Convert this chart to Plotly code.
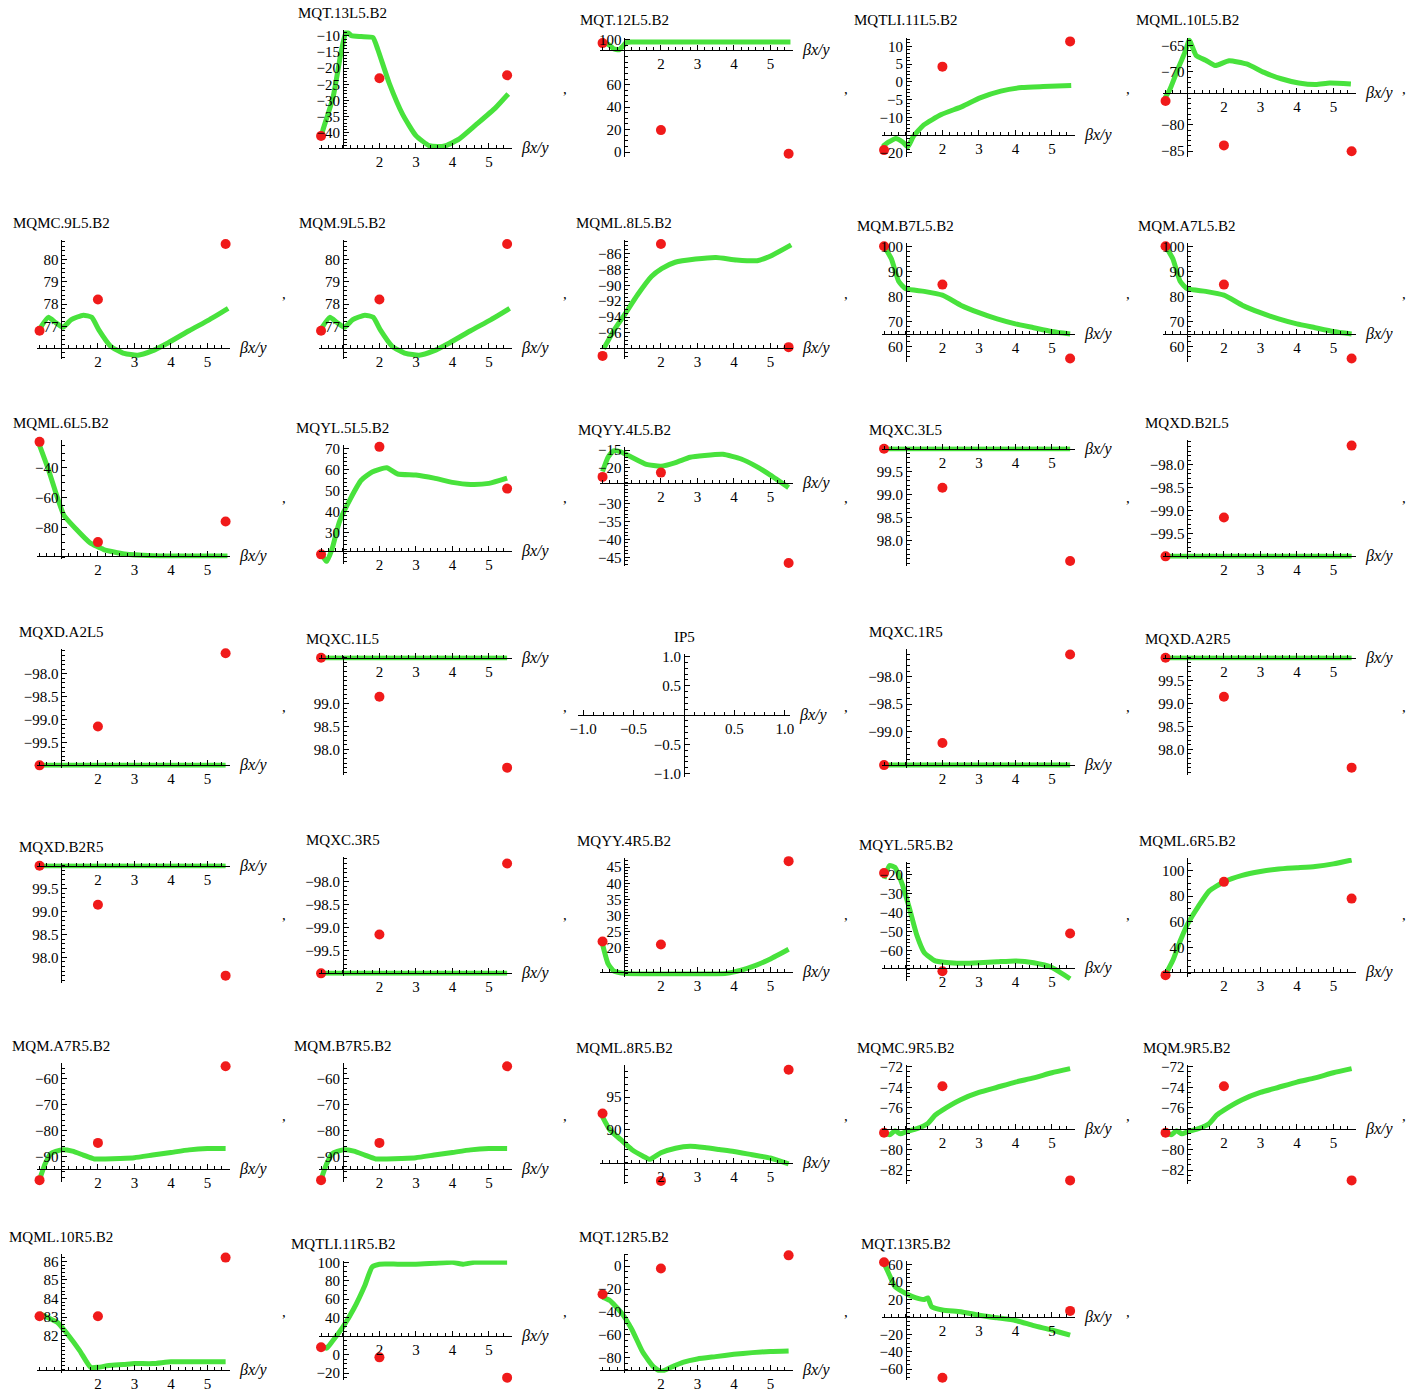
import plotly.graph_objects as go

# ---------------------------------------------------------------------------
# Data: one green response curve and three red reference points per element.
# Points are taken at beta = 0.4, 2.0 and 5.5.
# ---------------------------------------------------------------------------
point_beta = [0.4, 2.0, 5.5]

mqt13l5_x = [0.41, 0.45, 0.73, 0.95, 1.09, 1.23, 1.5, 1.82, 1.95, 2.27, 2.64, 3.0, 3.36, 3.6, 3.82, 4.18, 4.64, 5.18, 5.53]
mqt13l5_y = [-41, -39.2, -29, -15, -8.6, -9.9, -10.2, -10.5, -14, -24.7, -34.4, -40.9, -44, -44.3, -44, -42, -37.6, -32.3, -28]
mqt13l5_pts = [-41, -23.1, -22.2]

mqt12l5_x = [0.4, 0.55, 0.7, 0.85, 0.95, 1.05, 1.2, 2, 3, 4, 5, 5.55]
mqt12l5_y = [97, 96, 92, 91, 94, 97.5, 98, 98, 98, 98, 98, 98]
mqt12l5_pts = [97, 19.5, -1.5]

mqtli11l5_x = [0.34, 0.53, 0.72, 0.91, 1.05, 1.2, 1.49, 1.97, 2.55, 3.03, 3.6, 4.18, 4.76, 5.53]
mqtli11l5_y = [-18.3, -16.9, -15.9, -16.9, -18.3, -15.4, -12.1, -9.2, -6.9, -4.5, -2.6, -1.6, -1.3, -1.0]
mqtli11l5_pts = [-19.2, 4.3, 11.4]

mqml10l5_x = [0.38, 0.52, 0.76, 0.95, 1.05, 1.24, 1.5, 1.76, 2.14, 2.62, 3.1, 3.57, 4.05, 4.52, 4.9, 5.48]
mqml10l5_y = [-75, -73.3, -69.1, -66, -64.0, -66.9, -67.8, -68.8, -67.9, -68.5, -70.1, -71.3, -72.1, -72.4, -72.1, -72.3]
mqml10l5_pts = [-75.5, -83.9, -85]

mqmc9l5_x = [0.43, 0.64, 0.85, 1.04, 1.27, 1.6, 1.83, 2.02, 2.35, 2.72, 3.09, 3.47, 3.93, 4.5, 5.06, 5.57]
mqmc9l5_y = [76.95, 77.4, 77.15, 76.95, 77.3, 77.5, 77.4, 76.85, 76.1, 75.78, 75.7, 75.88, 76.26, 76.8, 77.3, 77.8]
mqmc9l5_pts = [76.8, 78.2, 80.7]

mqm9l5_x = [0.43, 0.64, 0.85, 1.04, 1.27, 1.6, 1.83, 2.02, 2.35, 2.72, 3.09, 3.47, 3.93, 4.5, 5.06, 5.57]
mqm9l5_y = [76.95, 77.4, 77.15, 76.95, 77.3, 77.5, 77.4, 76.85, 76.1, 75.78, 75.7, 75.88, 76.26, 76.8, 77.3, 77.8]
mqm9l5_pts = [76.8, 78.2, 80.7]

mqml8l5_x = [0.43, 0.71, 0.99, 1.36, 1.74, 2.02, 2.39, 2.95, 3.51, 4.07, 4.64, 5.01, 5.57]
mqml8l5_y = [-98, -95.7, -93.8, -91.2, -88.9, -87.9, -87.1, -86.7, -86.5, -86.8, -86.9, -86.3, -84.9]
mqml8l5_pts = [-98.9, -84.8, -97.8]

mqmb7l5_x = [0.4, 0.6, 0.8, 1.0, 1.5, 2.0, 2.5, 3.0, 3.5, 4.0, 4.5, 5.0, 5.5]
mqmb7l5_y = [100, 95, 86, 83, 82, 80.5, 76.5, 73.5, 71, 69, 67.5, 66, 65]
mqmb7l5_pts = [100, 84.7, 55.2]

mqma7l5_x = [0.4, 0.6, 0.8, 1.0, 1.5, 2.0, 2.5, 3.0, 3.5, 4.0, 4.5, 5.0, 5.5]
mqma7l5_y = [100, 95, 86, 83, 82, 80.5, 76.5, 73.5, 71, 69, 67.5, 66, 65]
mqma7l5_pts = [100, 84.7, 55.2]

mqml6l5_x = [0.4, 0.64, 0.88, 1.07, 1.4, 1.78, 2.16, 2.73, 3.5, 4.45, 5.0, 5.55]
mqml6l5_y = [-24.8, -40.9, -59.3, -72, -81.1, -90.3, -94.9, -97.9, -99, -99.2, -99.2, -99.2]
mqml6l5_pts = [-22.5, -89.9, -76]

mqyl5l5_x = [0.4, 0.55, 0.7, 0.9, 1.2, 1.5, 1.8, 2.2, 2.5, 3.0, 3.5, 4.0, 4.5, 5.0, 5.5]
mqyl5l5_y = [20, 16, 22, 35, 46, 55, 59, 61, 58, 57.5, 56, 54, 53, 53.5, 56]
mqyl5l5_pts = [19.5, 71, 51]

mqyy4l5_x = [0.4, 0.55, 0.7, 0.9, 1.2, 1.6, 2.0, 2.4, 2.8, 3.2, 3.7, 4.2, 4.6, 5.0, 5.5]
mqyy4l5_y = [-21, -17, -15.2, -15.5, -17, -19, -19.5, -18.5, -17, -16.5, -16.2, -17.5, -19.5, -22, -25.5]
mqyy4l5_pts = [-22.5, -21.3, -46.6]

flat_x = [0.4, 1.0, 2.0, 3.0, 4.0, 5.0, 5.5]

mqxc3l5_y = [100, 100, 100, 100, 100, 100, 100]
mqxc3l5_pts = [100, 99.15, 97.55]

mqxdb2l5_y = [-100, -100, -100, -100, -100, -100, -100]
mqxdb2l5_pts = [-100, -99.15, -97.58]

mqxda2l5_y = [-100, -100, -100, -100, -100, -100, -100]
mqxda2l5_pts = [-100, -99.15, -97.55]

mqxc1l5_y = [100, 100, 100, 100, 100, 100, 100]
mqxc1l5_pts = [100, 99.15, 97.6]

mqxc1r5_y = [-99.6, -99.6, -99.6, -99.6, -99.6, -99.6, -99.6]
mqxc1r5_pts = [-99.6, -99.2, -97.6]

mqxda2r5_y = [100, 100, 100, 100, 100, 100, 100]
mqxda2r5_pts = [100, 99.15, 97.6]

mqxdb2r5_y = [100, 100, 100, 100, 100, 100, 100]
mqxdb2r5_pts = [100, 99.15, 97.6]

mqxc3r5_y = [-100, -100, -100, -100, -100, -100, -100]
mqxc3r5_pts = [-100, -99.15, -97.6]

mqyy4r5_x = [0.4, 0.55, 0.7, 1.0, 1.5, 2.0, 2.5, 3.0, 3.5, 3.8, 4.2, 4.6, 5.0, 5.5]
mqyy4r5_y = [21, 15, 12.8, 12, 11.8, 11.8, 11.8, 11.8, 11.8, 12, 13, 14.5, 16.5, 19.5]
mqyy4r5_pts = [21.9, 21, 46.9]

mqyl5r5_x = [0.4, 0.55, 0.7, 0.9, 1.1, 1.3, 1.5, 1.8, 2.2, 2.6, 3.0, 3.5, 4.0, 4.5, 5.0, 5.5]
mqyl5r5_y = [-22, -15, -16, -25, -38, -52, -61, -65.5, -66.5, -66.8, -66.5, -66, -65.5, -66.5, -69, -75]
mqyl5r5_pts = [-19, -71, -51]

mqml6r5_x = [0.4, 0.6, 0.8, 1.0, 1.3, 1.6, 2.0, 2.5, 3.0, 3.5, 4.0, 4.5, 5.0, 5.5]
mqml6r5_y = [19, 30, 45, 58, 72, 84, 91, 96, 99, 101, 102, 103, 105, 108]
mqml6r5_pts = [18.5, 91, 78]

mqma7r5_x = [0.4, 0.55, 0.7, 1.0, 1.3, 1.6, 1.9, 2.2, 2.6, 3.0, 3.5, 4.0, 4.5, 5.0, 5.5]
mqma7r5_y = [-99, -93, -89, -87.5, -88, -89.5, -91, -91, -90.8, -90.5, -89.5, -88.5, -87.5, -87, -87]
mqma7r5_pts = [-99.2, -84.8, -55.2]

mqmb7r5_x = [0.4, 0.55, 0.7, 1.0, 1.3, 1.6, 1.9, 2.2, 2.6, 3.0, 3.5, 4.0, 4.5, 5.0, 5.5]
mqmb7r5_y = [-99, -93, -89, -87.5, -88, -89.5, -91, -91, -90.8, -90.5, -89.5, -88.5, -87.5, -87, -87]
mqmb7r5_pts = [-99.2, -84.8, -55.2]

mqml8r5_x = [0.4, 0.6, 0.9, 1.2, 1.5, 1.7, 2.0, 2.4, 2.8, 3.2, 3.6, 4.0, 4.5, 5.0, 5.5]
mqml8r5_y = [92, 90, 88.5, 87, 86, 85.5, 86.5, 87.2, 87.5, 87.3, 87, 86.7, 86.2, 85.7, 84.8]
mqml8r5_pts = [92.5, 82.2, 99.2]

mqmc9r5_x = [0.4, 0.55, 0.7, 0.85, 1.0, 1.3, 1.6, 1.8, 2.0, 2.5, 3.0, 3.5, 4.0, 4.5, 5.0, 5.5]
mqmc9r5_y = [-78.3, -78.6, -78.2, -78.5, -78.3, -78, -77.5, -76.7, -76.2, -75.2, -74.5, -74, -73.5, -73.1, -72.6, -72.2]
mqmc9r5_pts = [-78.4, -73.9, -83]

mqm9r5_x = [0.4, 0.55, 0.7, 0.85, 1.0, 1.3, 1.6, 1.8, 2.0, 2.5, 3.0, 3.5, 4.0, 4.5, 5.0, 5.5]
mqm9r5_y = [-78.3, -78.6, -78.2, -78.5, -78.3, -78, -77.5, -76.7, -76.2, -75.2, -74.5, -74, -73.5, -73.1, -72.6, -72.2]
mqm9r5_pts = [-78.4, -73.9, -83]

mqml10r5_x = [0.4, 0.6, 0.9, 1.2, 1.5, 1.8, 2.0, 2.3, 2.7, 3.0, 3.5, 4.0, 4.5, 5.0, 5.5]
mqml10r5_y = [83.2, 83.0, 82.7, 82.0, 81.2, 80.3, 80.3, 80.4, 80.45, 80.5, 80.5, 80.6, 80.6, 80.6, 80.6]
mqml10r5_pts = [83.05, 83.05, 86.2]

mqtli11r5_x = [0.4, 0.55, 0.7, 1.0, 1.3, 1.6, 1.8, 2.0, 2.5, 3.0, 3.5, 4.0, 4.3, 4.6, 5.0, 5.5]
mqtli11r5_y = [10, 7, 14, 30, 50, 75, 95, 98, 98, 98, 99, 100, 98, 100, 100, 100]
mqtli11r5_pts = [8, -3, -25]

mqt12r5_x = [0.4, 0.6, 0.9, 1.2, 1.5, 1.8, 2.0, 2.3, 2.6, 3.0, 3.5, 4.0, 4.5, 5.0, 5.5]
mqt12r5_y = [-27, -30, -40, -55, -75, -88, -92, -88, -84, -81, -79, -77, -75.5, -74.5, -74]
mqt12r5_pts = [-24.5, -2, 9.5]

mqt13r5_x = [0.4, 0.55, 0.7, 1.0, 1.2, 1.5, 1.6, 1.7, 2.0, 2.5, 3.0, 3.5, 4.0, 4.5, 5.0, 5.5]
mqt13r5_y = [62, 48, 35, 27, 23, 20, 22, 12, 8, 6, 2, -1, -4, -10, -15, -21]
mqt13r5_pts = [63, -70, 7]

# Panel table: (title, row, col, curve x, curve y, points, y range, x-axis crossing, y ticks, y minor step)
panels = [
    ("MQT.13L5.B2", 0, 1, mqt13l5_x, mqt13l5_y, mqt13l5_pts, [-45.2, -8.3], -44.6, [-10, -15, -20, -25, -30, -35, -40], 1),
    ("MQT.12L5.B2", 0, 2, mqt12l5_x, mqt12l5_y, mqt12l5_pts, [-4, 102], 91, [0, 20, 40, 60, 100], 5),
    ("MQTLI.11L5.B2", 0, 3, mqtli11l5_x, mqtli11l5_y, mqtli11l5_pts, [-21, 12.5], -15, [10, 5, 0, -5, -10, -20], 1),
    ("MQML.10L5.B2", 0, 4, mqml10l5_x, mqml10l5_y, mqml10l5_pts, [-86, -63.5], -74, [-65, -70, -80, -85], 1),
    ("MQMC.9L5.B2", 1, 0, mqmc9l5_x, mqmc9l5_y, mqmc9l5_pts, [75.55, 80.9], 76.0, [77, 78, 79, 80], 0.2),
    ("MQM.9L5.B2", 1, 1, mqm9l5_x, mqm9l5_y, mqm9l5_pts, [75.55, 80.9], 76.0, [77, 78, 79, 80], 0.2),
    ("MQML.8L5.B2", 1, 2, mqml8l5_x, mqml8l5_y, mqml8l5_pts, [-99.3, -84.3], -97.9, [-86, -88, -90, -92, -94, -96], 0.5),
    ("MQM.B7L5.B2", 1, 3, mqmb7l5_x, mqmb7l5_y, mqmb7l5_pts, [54, 101.5], 65, [60, 70, 80, 90, 100], 2),
    ("MQM.A7L5.B2", 1, 4, mqma7l5_x, mqma7l5_y, mqma7l5_pts, [54, 101.5], 65, [60, 70, 80, 90, 100], 2),
    ("MQML.6L5.B2", 2, 0, mqml6l5_x, mqml6l5_y, mqml6l5_pts, [-101, -21], -99.5, [-40, -60, -80], 5),
    ("MQYL.5L5.B2", 2, 1, mqyl5l5_x, mqyl5l5_y, mqyl5l5_pts, [15, 72], 21, [30, 40, 50, 60, 70], 2),
    ("MQYY.4L5.B2", 2, 2, mqyy4l5_x, mqyy4l5_y, mqyy4l5_pts, [-47.3, -14], -24.3, [-15, -20, -30, -35, -40, -45], 1),
    ("MQXC.3L5", 2, 3, flat_x, mqxc3l5_y, mqxc3l5_pts, [97.45, 100.05], 100, [98.0, 98.5, 99.0, 99.5], 0.1),
    ("MQXD.B2L5", 2, 4, flat_x, mqxdb2l5_y, mqxdb2l5_pts, [-100.05, -97.45], -100, [-98.0, -98.5, -99.0, -99.5], 0.1),
    ("MQXD.A2L5", 3, 0, flat_x, mqxda2l5_y, mqxda2l5_pts, [-100.05, -97.45], -100, [-98.0, -98.5, -99.0, -99.5], 0.1),
    ("MQXC.1L5", 3, 1, flat_x, mqxc1l5_y, mqxc1l5_pts, [97.45, 100.05], 100, [98.0, 98.5, 99.0], 0.1),
    ("IP5", 3, 2, None, None, None, [-1.05, 1.05], 0, [1.0, 0.5, -0.5, -1.0], 0.1),
    ("MQXC.1R5", 3, 3, flat_x, mqxc1r5_y, mqxc1r5_pts, [-99.65, -97.5], -99.6, [-98.0, -98.5, -99.0], 0.1),
    ("MQXD.A2R5", 3, 4, flat_x, mqxda2r5_y, mqxda2r5_pts, [97.45, 100.05], 100, [98.0, 98.5, 99.0, 99.5], 0.1),
    ("MQXD.B2R5", 4, 0, flat_x, mqxdb2r5_y, mqxdb2r5_pts, [97.45, 100.05], 100, [98.0, 98.5, 99.0, 99.5], 0.1),
    ("MQXC.3R5", 4, 1, flat_x, mqxc3r5_y, mqxc3r5_pts, [-100.05, -97.45], -100, [-98.0, -98.5, -99.0, -99.5], 0.1),
    ("MQYY.4R5.B2", 4, 2, mqyy4r5_x, mqyy4r5_y, mqyy4r5_pts, [11, 48], 12.3, [20, 25, 30, 35, 40, 45], 1),
    ("MQYL.5R5.B2", 4, 3, mqyl5r5_x, mqyl5r5_y, mqyl5r5_pts, [-76, -13], -69.4, [-20, -30, -40, -50, -60], 2),
    ("MQML.6R5.B2", 4, 4, mqml6r5_x, mqml6r5_y, mqml6r5_pts, [17, 109.5], 21, [40, 60, 80, 100], 5),
    ("MQM.A7R5.B2", 5, 0, mqma7r5_x, mqma7r5_y, mqma7r5_pts, [-100, -54], -94.8, [-60, -70, -80, -90], 2),
    ("MQM.B7R5.B2", 5, 1, mqmb7r5_x, mqmb7r5_y, mqmb7r5_pts, [-100, -54], -94.8, [-60, -70, -80, -90], 2),
    ("MQML.8R5.B2", 5, 2, mqml8r5_x, mqml8r5_y, mqml8r5_pts, [81.8, 100], 85, [90, 95], 1),
    ("MQMC.9R5.B2", 5, 3, mqmc9r5_x, mqmc9r5_y, mqmc9r5_pts, [-83.3, -71.8], -78, [-72, -74, -76, -80, -82], 0.5),
    ("MQM.9R5.B2", 5, 4, mqm9r5_x, mqm9r5_y, mqm9r5_pts, [-83.3, -71.8], -78, [-72, -74, -76, -80, -82], 0.5),
    ("MQML.10R5.B2", 6, 0, mqml10r5_x, mqml10r5_y, mqml10r5_pts, [80.0, 86.4], 80.15, [82, 83, 84, 85, 86], 0.2),
    ("MQTLI.11R5.B2", 6, 1, mqtli11r5_x, mqtli11r5_y, mqtli11r5_pts, [-27, 102], 20, [100, 80, 60, 40, 0, -20], 5),
    ("MQT.12R5.B2", 6, 2, mqt12r5_x, mqt12r5_y, mqt12r5_pts, [-93, 11], -91, [0, -20, -40, -60, -80], 5),
    ("MQT.13R5.B2", 6, 3, mqt13r5_x, mqt13r5_y, mqt13r5_pts, [-72, 65], 0, [60, 40, 20, -20, -40, -60], 5),
]

# ---------------------------------------------------------------------------
# Page geometry (pixels)
# ---------------------------------------------------------------------------
FIG_W, FIG_H = 1410, 1391
CELL_W = 281.5
ROW_MID = [88, 293, 497, 706, 914, 1115, 1311]
PLOT_W, PLOT_H = 193, 119
X_RANGE = [0.33, 5.62]
SERIF = "Liberation Serif, Times New Roman, serif"
GREEN = "#48e23c"
RED = "#f01a1a"
FONT_SIZE = 15


def px_x(p):
    return p / FIG_W


def px_y(p):
    return 1 - p / FIG_H


def tick_text(values):
    frac = any(abs(v - round(v)) > 1e-9 for v in values)
    return [(f"{v:.1f}" if frac else f"{int(round(v))}").replace("-", "\u2212") for v in values]


fig = go.Figure()
annotations = []
layout_axes = {}

for i, (title, row, col, cx, cy, pts, yr, ycross, yticks, yminor) in enumerate(panels, start=1):
    is_ip = cx is None
    if is_ip:
        xr = [-1.05, 1.05]
        w, h = 212, 123
        left = col * CELL_W + 15
        xorigin = 0.0
        xticks = [-1.0, -0.5, 0.5, 1.0]
        xminor = 0.1
    else:
        xr = X_RANGE
        w, h = PLOT_W, PLOT_H
        left = col * CELL_W + 37
        xorigin = 1.0
        xticks = [2, 3, 4, 5]
        xminor = 0.2

    # vertical placement: label above, tick labels below the horizontal axis
    axis_off = (yr[1] - ycross) / (yr[1] - yr[0]) * h
    bottom = max(h + 2, axis_off + 18)
    box_h = 20 + bottom
    top = ROW_MID[row] - box_h / 2 + 20

    axis_y_px = top + axis_off
    axis_x_px = left + (xorigin - xr[0]) / (xr[1] - xr[0]) * w

    xname = "xaxis" if i == 1 else f"xaxis{i}"
    yname = "yaxis" if i == 1 else f"yaxis{i}"
    xref = "x" if i == 1 else f"x{i}"
    yref = "y" if i == 1 else f"y{i}"

    tickfont = dict(family=SERIF, size=FONT_SIZE, color="black")
    layout_axes[xname] = dict(
        domain=[px_x(left), px_x(left + w)], range=xr, anchor="free",
        position=px_y(axis_y_px), showline=True, linecolor="black", linewidth=1,
        showgrid=False, zeroline=False, tickmode="array", tickvals=xticks, ticktext=tick_text(xticks),
        ticks="inside", ticklen=5, tickcolor="black", tickfont=tickfont,
        minor=dict(ticks="inside", ticklen=3, dtick=xminor, tick0=0, tickcolor="black", showgrid=False),
        fixedrange=True, visible=True, automargin=False,
    )
    layout_axes[yname] = dict(
        domain=[px_y(top + h), px_y(top)], range=yr, anchor="free",
        position=px_x(axis_x_px), showline=True, linecolor="black", linewidth=1,
        showgrid=False, zeroline=False, tickmode="array", tickvals=yticks, ticktext=tick_text(yticks),
        ticks="inside", ticklen=5, tickcolor="black", tickfont=tickfont,
        minor=dict(ticks="inside", ticklen=3, dtick=yminor, tick0=0, tickcolor="black", showgrid=False),
        fixedrange=True, visible=True, automargin=False,
    )

    if is_ip:
        # no data for the interaction point: keep the empty axes on the page
        fig.add_trace(go.Scatter(
            x=[None], y=[None], mode="markers", xaxis=xref, yaxis=yref,
            showlegend=False, hoverinfo="skip",
        ))
    else:
        fig.add_trace(go.Scatter(
            x=cx, y=cy, mode="lines", xaxis=xref, yaxis=yref,
            line=dict(color=GREEN, width=5, shape="spline", smoothing=0.5),
            cliponaxis=False, showlegend=False, hoverinfo="skip",
        ))
        fig.add_trace(go.Scatter(
            x=point_beta, y=pts, mode="markers", xaxis=xref, yaxis=yref,
            marker=dict(color=RED, size=10), cliponaxis=False, showlegend=False,
        ))

    # element name above the vertical axis
    annotations.append(dict(
        x=px_x(axis_x_px), y=px_y(top - 17), xref="paper", yref="paper",
        text=title, showarrow=False, xanchor="center", yanchor="middle",
        font=dict(family=SERIF, size=FONT_SIZE, color="black"),
    ))
    # horizontal axis label
    annotations.append(dict(
        x=px_x(left + w + 7), y=px_y(axis_y_px), xref="paper", yref="paper",
        text="<i>βx/y</i>", showarrow=False, xanchor="left", yanchor="middle",
        font=dict(family=SERIF, size=16, color="black"),
    ))
    # list separator
    annotations.append(dict(
        x=px_x(min((col + 1) * CELL_W + 2, 1404)), y=px_y(ROW_MID[row] + 1), xref="paper", yref="paper",
        text=",", showarrow=False, xanchor="center", yanchor="middle",
        font=dict(family=SERIF, size=15, color="black"),
    ))

fig.update_layout(
    width=FIG_W, height=FIG_H, margin=dict(l=0, r=0, t=0, b=0, autoexpand=False),
    paper_bgcolor="white", plot_bgcolor="white", showlegend=False,
    annotations=annotations, **layout_axes,
)

fig.write_html("out.html")
